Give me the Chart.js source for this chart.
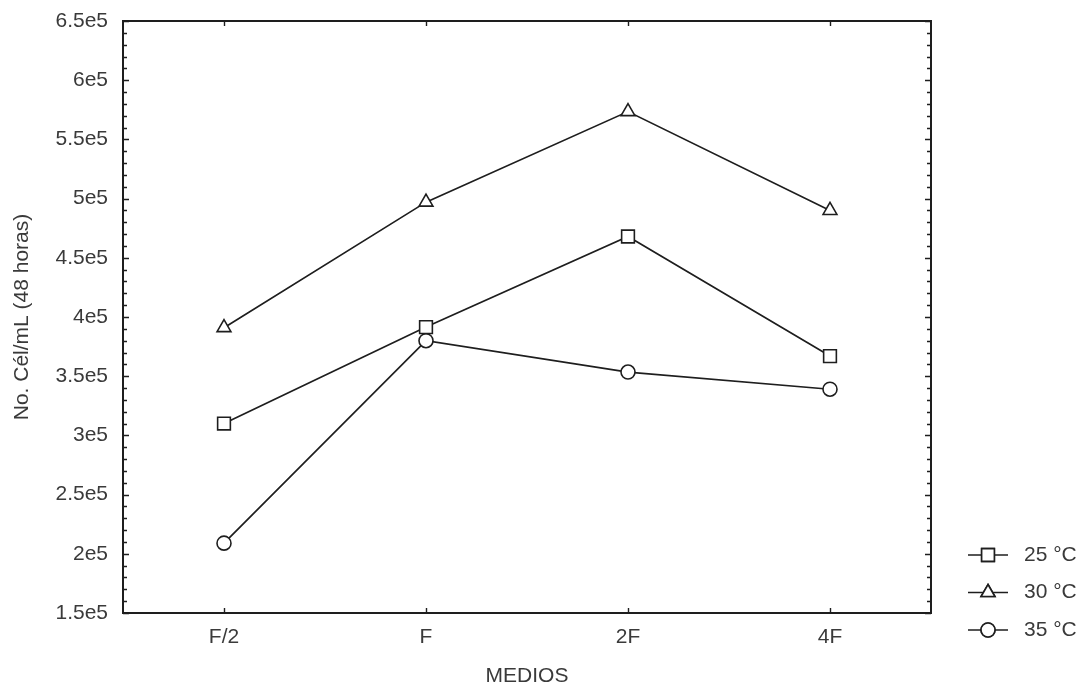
<!DOCTYPE html>
<html>
<head>
<meta charset="utf-8">
<script src="https://cdn.jsdelivr.net/npm/chart.js@4.4.1/dist/chart.umd.min.js"></script>
<style>
html,body{margin:0;padding:0;background:#fff;}
#c{display:block;}
</style>
</head>
<body>
<canvas id="c" width="1080" height="689"></canvas>
<script>
const categories = ['F/2', 'F', '2F', '4F'];
const serie25 = [3.10e5, 3.915e5, 4.68e5, 3.67e5];
const serie30 = [3.91e5, 4.97e5, 5.735e5, 4.90e5];
const serie35 = [2.09e5, 3.80e5, 3.535e5, 3.39e5];
const seriesLabels = ['25 °C', '30 °C', '35 °C'];
const yAxisTitle = 'No. Cél/mL (48 horas)';
const xAxisTitle = 'MEDIOS';
const yMin = 1.5e5, yMax = 6.5e5, yMajorStep = 5e4, yMinorStep = 1e4;

const INK = '#1e1e1e';
const TEXT = '#3a3a3a';
const FONT = "'Liberation Sans', Arial, sans-serif";

function ds(label, data, style, radius) {
  return {
    label, data,
    borderColor: INK, borderWidth: 1.7,
    pointStyle: style, pointRadius: radius, pointHoverRadius: radius,
    pointBackgroundColor: '#fff', pointBorderColor: INK, pointBorderWidth: 1.6,
    fill: false, tension: 0
  };
}

const framePlugin = {
  id: 'frame',
  afterDatasetsDraw(chart) {
    const {ctx, chartArea: a, scales: {x, y}} = chart;
    ctx.save();
    ctx.strokeStyle = INK;
    ctx.lineWidth = 2;
    ctx.strokeRect(a.left, a.top, a.right - a.left, a.bottom - a.top);
    ctx.lineWidth = 1.4;
    ctx.beginPath();
    for (let v = yMin; v <= yMax + 1; v += yMinorStep) {
      const py = Math.round(y.getPixelForValue(v)) + 0.5;
      const r = (v - yMin) % yMajorStep;
      const major = r < 1 || yMajorStep - r < 1;
      const len = major ? 6 : 4;
      ctx.moveTo(a.left, py); ctx.lineTo(a.left + len, py);
      ctx.moveTo(a.right, py); ctx.lineTo(a.right - len, py);
    }
    categories.forEach((c, i) => {
      const px = Math.round(x.getPixelForValue(i)) + 0.5;
      ctx.moveTo(px, a.bottom); ctx.lineTo(px, a.bottom - 5);
      ctx.moveTo(px, a.top); ctx.lineTo(px, a.top + 5);
    });
    ctx.stroke();
    ctx.restore();
  }
};

const legendPlugin = {
  id: 'sideLegend',
  afterDraw(chart) {
    const ctx = chart.ctx;
    const a = chart.chartArea;
    const lx0 = a.right + 37, lx1 = a.right + 77, mx = a.right + 57, tx = a.right + 93;
    const y0 = a.bottom - 58, dy = 37.5;
    ctx.save();
    chart.data.datasets.forEach((d, i) => {
      const yy = y0 + i * dy;
      ctx.strokeStyle = INK; ctx.lineWidth = 1.6;
      ctx.beginPath(); ctx.moveTo(lx0, yy); ctx.lineTo(lx1, yy); ctx.stroke();
      ctx.fillStyle = '#fff';
      Chart.helpers.drawPoint(ctx, {pointStyle: d.pointStyle, radius: d.pointRadius, rotation: 0, borderWidth: 1.6}, mx, yy);
      ctx.fill(); ctx.stroke();
      ctx.fillStyle = TEXT;
      ctx.font = '21px ' + FONT;
      ctx.textBaseline = 'middle';
      ctx.textAlign = 'left';
      ctx.fillText(d.label, tx, yy);
    });
    ctx.restore();
  }
};

new Chart(document.getElementById('c'), {
  type: 'line',
  data: {
    labels: categories,
    datasets: [
      ds(seriesLabels[0], serie25, 'rect', 9),
      ds(seriesLabels[1], serie30, 'triangle', 8),
      ds(seriesLabels[2], serie35, 'circle', 7)
    ]
  },
  options: {
    responsive: false,
    devicePixelRatio: 1,
    animation: false,
    layout: {padding: {top: 21, right: 149, left: 0, bottom: 0}},
    plugins: {legend: {display: false}, tooltip: {enabled: false}},
    scales: {
      x: {
        offset: true,
        grid: {display: false, drawTicks: false},
        border: {display: false},
        ticks: {color: TEXT, font: {family: FONT, size: 21}, padding: 12, maxRotation: 0},
        title: {display: true, text: xAxisTitle, color: TEXT, font: {family: FONT, size: 21}, padding: {top: 0, bottom: 0}},
        afterFit(s) { s.height = 76; }
      },
      y: {
        min: yMin, max: yMax,
        grid: {display: false, drawTicks: false},
        border: {display: false},
        ticks: {
          stepSize: yMajorStep, color: TEXT, font: {family: FONT, size: 21}, padding: 15,
          callback: (v) => (Math.round(v / 1e4) / 10) + 'e5'
        },
        title: {display: true, text: yAxisTitle, color: TEXT, font: {family: FONT, size: 21}, padding: {top: 10, bottom: 0}},
        afterFit(s) { s.width = 123; s.paddingTop = 8; s.paddingBottom = 8; }
      }
    }
  },
  plugins: [framePlugin, legendPlugin]
});
</script>
</body>
</html>
